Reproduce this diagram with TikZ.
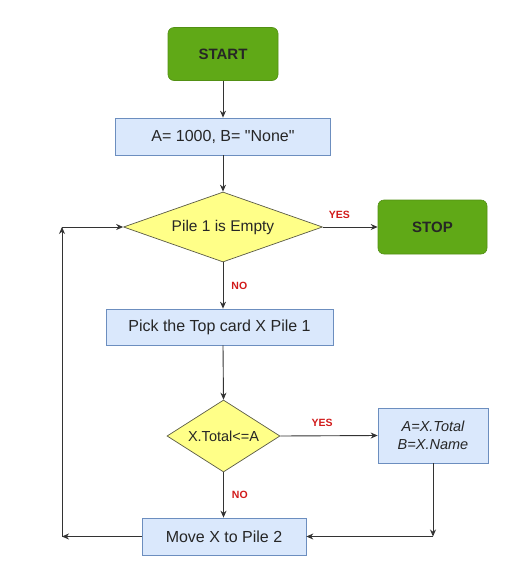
\documentclass[tikz,border=0pt]{standalone}
\usepackage{fontspec}
\setmainfont{Liberation Sans}[Ligatures=TeXOff]
\usetikzlibrary{shapes.geometric,arrows.meta}
\definecolor{gfill}{HTML}{60A917}
\definecolor{bfill}{HTML}{DAE8FC}
\definecolor{bline}{HTML}{6C8EBF}
\definecolor{yfill}{HTML}{FFFF88}
\definecolor{yline}{HTML}{5A5A46}
\definecolor{lab}{HTML}{D11A1A}
\definecolor{conn}{HTML}{333333}
\tikzset{
  term/.style={rectangle, rounded corners=6pt, fill=gfill, draw=gfill!85!black, line width=0.6pt,
    minimum width=110pt, minimum height=53pt, inner sep=0pt, font=\fontsize{15}{17}\selectfont\bfseries, text=black!85},
  procbox/.style={rectangle, fill=bfill, draw=bline, line width=0.7pt, inner sep=0pt,
    font=\fontsize{16}{19}\selectfont, text=black!85},
  decide/.style={diamond, fill=yfill, draw=yline, line width=0.7pt, inner sep=0pt,
    font=\fontsize{15.5}{18}\selectfont, text=black!85},
  conn/.style={draw=conn, line width=0.9pt, -{Stealth[length=7pt,width=6pt]}},
  lbl/.style={text=lab, font=\fontsize{10.5}{12}\selectfont\bfseries, inner sep=0pt}
}
\begin{document}
\begin{tikzpicture}[x=1pt,y=-1pt]
\useasboundingbox (0,0) rectangle (508,587);
\node[term] (start) at (223,54) {START};
\node[procbox, minimum width=215pt, minimum height=37pt] (init) at (223,136.5) {A= 1000, B= "None"};
\node[decide, aspect=2.84, minimum width=199pt, minimum height=70pt] (d1) at (223,227) {Pile 1 is Empty};
\node[term, minimum width=109pt, minimum height=54pt] (stop) at (432.5,227) {STOP};
\node[procbox, minimum width=227pt, minimum height=36pt] (pick) at (219.5,327) {Pick the Top card X Pile 1};
\node[decide, aspect=1.57, minimum width=113pt, minimum height=72pt, font=\fontsize{14.5}{17}\selectfont] (d2) at (223.5,436) {X.Total<=A};
\node[procbox, minimum width=110pt, minimum height=55pt, align=center, font=\fontsize{14.5}{18}\selectfont\itshape] (assign) at (433,435.5) {A=X.Total\\B=X.Name};
\node[procbox, minimum width=164pt, minimum height=37pt] (move) at (224,536.5) {Move X to Pile 2};
\coordinate (rb) at (433,536.5);
\coordinate (lb) at (62,536.5);
\coordinate (lt) at (62,227);

\draw[conn] (start) -- (init);
\draw[conn] (init) -- (d1);
\draw[conn] (d1.east) -- node[lbl, above=8pt, pos=0.3] (yes1) {YES} (stop.west);
\draw[conn] (d1.south) -- node[lbl, right=8pt, pos=0.5] (no1) {NO} (d1.south |- pick.north);
\draw[conn] (d1.south |- pick.south) -- (d2.north);
\draw[conn] (d2.east) -- node[lbl, above=9pt, pos=0.43] (yes2) {YES} (assign.west);
\draw[conn] (d2.south) -- node[lbl, right=8pt, pos=0.5] (no2) {NO} (d2.south |- move.north);
\draw[conn] (assign.south) -- (rb);
\draw[conn] (rb) -- (move.east);
\draw[conn] (move.west) -- (lb);
\draw[conn] (lb) -- (lt);
\draw[conn] (lt) -- (d1.west);
\end{tikzpicture}
\end{document}
